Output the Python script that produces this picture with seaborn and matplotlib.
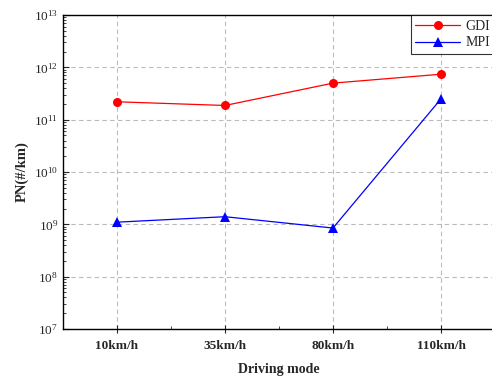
import pandas as pd
import numpy as np
import seaborn as sns
import matplotlib.pyplot as plt
from matplotlib.ticker import LogLocator, FixedLocator

# Datos
modos = ['10km/h', '35km/h', '80km/h', '110km/h']
gdi = [2.2e11, 1.87e11, 5.0e11, 7.4e11]
mpi = [1.1e9, 1.4e9, 8.5e8, 2.5e11]

df = pd.DataFrame({
    'x': list(range(len(modos))) * 2,
    'PN': gdi + mpi,
    'Motor': ['GDI'] * len(modos) + ['MPI'] * len(modos),
})

sns.set_style('ticks')
plt.rcParams['font.family'] = ['Liberation Serif', 'DejaVu Serif']
plt.rcParams['mathtext.fontset'] = 'stix'

fig = plt.figure(figsize=(4.92, 3.81), dpi=100)
ax = fig.add_axes([0.128, 0.1365, 0.878, 0.824])

sns.lineplot(data=df, x='x', y='PN', hue='Motor', style='Motor',
             palette={'GDI': 'red', 'MPI': 'blue'},
             markers={'GDI': 'o', 'MPI': '^'}, dashes=False,
             markersize=6.5, markeredgewidth=0, linewidth=0.9, ax=ax)

ax.set_yscale('log')
ax.set_ylim(1e7, 1e13)
ax.set_xlim(-0.5, 3.5)
ax.yaxis.set_major_locator(LogLocator(base=10, numticks=10))
ax.yaxis.set_minor_locator(LogLocator(base=10, subs=np.arange(2, 10), numticks=20))
ax.set_xticks(range(len(modos)))
ax.set_xticklabels(modos, fontweight='bold')
ax.xaxis.set_minor_locator(FixedLocator([0.5, 1.5, 2.5]))

ax.grid(True, which='major', linestyle=(0, (4, 3)), color='#bbbbbb', linewidth=0.8)
ax.tick_params(axis='both', which='major', direction='in', length=4, width=0.8, labelsize=9.5)
ax.tick_params(axis='x', which='major', direction='inout', length=6, labelsize=9.5, pad=5)
ax.tick_params(axis='both', which='minor', direction='in', length=2, width=0.6)
for s in ax.spines.values():
    s.set_linewidth(1.0)
    s.set_color('black')

ax.set_xlabel('Driving mode', fontsize=10, fontweight='bold', labelpad=8)
ax.set_ylabel('PN(#/km)', fontsize=10.5, fontweight='bold', labelpad=4)

leg = ax.legend(loc='upper right', title=None, frameon=True,
                fancybox=False, edgecolor='black', borderaxespad=0,
                handlelength=3.2, handletextpad=0.4, prop={'size': 10},
                borderpad=0.35, labelspacing=0.25)
leg.get_frame().set_linewidth(0.8)

fig.savefig('out.png', dpi=100)
